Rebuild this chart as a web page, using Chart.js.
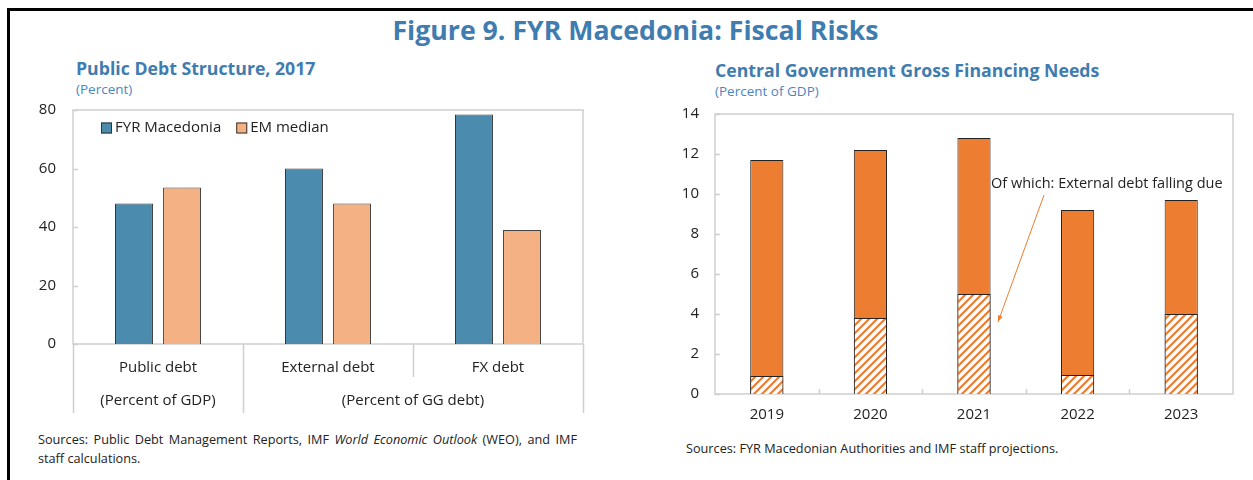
<!DOCTYPE html>
<html>
<head>
<meta charset="utf-8">
<script src="https://cdn.jsdelivr.net/npm/chart.js@4.4.1/dist/chart.umd.min.js"></script>
<style>
  html, body { margin: 0; padding: 0; background: #fff; }
  body { width: 1253px; height: 480px; position: relative; overflow: hidden; font-family: 'Open Sans', sans-serif; color: #222; }
  .rule-top { position: absolute; left: 7px; top: 8px; width: 1246px; height: 3px; background: #000; }
  .rule-left { position: absolute; left: 7px; top: 8px; width: 3px; height: 472px; background: #000; }
  .fig-title { position: absolute; left: 0; top: 11px; width: 1271px; text-align: center; font-weight: 700; font-size: 26.7px; color: #3f7cb0; white-space: nowrap; }
  .panel-title { position: absolute; font-weight: 700; font-size: 17.7px; color: #3f7cb0; white-space: nowrap; }
  .panel-unit { position: absolute; font-size: 13.5px; color: #4a86c2; white-space: nowrap; }
  .note { position: absolute; font-size: 12.7px; color: #222; line-height: 19px; white-space: nowrap; }
  .note.just { text-align: justify; text-align-last: justify; }
  canvas { position: absolute; }
</style>
</head>
<body>
<div class="rule-top"></div>
<div class="rule-left"></div>
<div class="fig-title">Figure 9. FYR Macedonia: Fiscal Risks</div>

<div class="panel-title" style="left:76px; top:56px;">Public Debt Structure, 2017</div>
<div class="panel-unit" style="left:76px; top:80px;">(Percent)</div>
<canvas id="debtChart" width="600" height="330" style="left:0; top:100px;"></canvas>
<div class="note just" style="left:38px; top:430px; width:539px; white-space:normal;">Sources: Public Debt Management Reports, IMF <i>World Economic Outlook</i> (WEO), and IMF</div>
<div class="note" style="left:38px; top:449px;">staff calculations.</div>

<div class="panel-title" style="left:715px; top:58px;">Central Government Gross Financing Needs</div>
<div class="panel-unit" style="left:715px; top:82px;">(Percent of GDP)</div>
<canvas id="gfnChart" width="613" height="330" style="left:640px; top:100px;"></canvas>
<div class="note" style="left:686px; top:439px;">Sources: FYR Macedonian Authorities and IMF staff projections.</div>

<script>
// Public debt structure, 2017
const debtCategories = ['Public debt', 'External debt', 'FX debt'];
const fyrMacedonia = [48, 60, 78.5];
const emMedian = [53.5, 48, 39];
const debtTicks = [0, 20, 40, 60, 80];
const debtGroups = [
    { label: '(Percent of GDP)', from: 0, to: 0 },
    { label: '(Percent of GG debt)', from: 1, to: 2 }
];

// Central government gross financing needs
const gfnYears = ['2019', '2020', '2021', '2022', '2023'];
const gfnTotal = [11.7, 12.2, 12.8, 9.2, 9.7];
const gfnExternalDue = [0.9, 3.8, 5.0, 0.95, 4.0];
const gfnTicks = [0, 2, 4, 6, 8, 10, 12, 14];

const FONT = "'Open Sans', sans-serif";
const TEXT = '#222';
const FRAME = '#cfcfcf';
Chart.defaults.font.family = FONT;
Chart.defaults.color = TEXT;
Chart.defaults.animation = false;

function hatch(color) {
    const size = 8;
    const c = document.createElement('canvas');
    c.width = size; c.height = size;
    const g = c.getContext('2d');
    g.fillStyle = '#fff';
    g.fillRect(0, 0, size, size);
    g.strokeStyle = color;
    g.lineWidth = 2.2;
    g.beginPath();
    g.moveTo(-1, size + 1); g.lineTo(size + 1, -1);
    g.moveTo(-1, 1); g.lineTo(1, -1);
    g.moveTo(size - 1, size + 1); g.lineTo(size + 1, size - 1);
    g.stroke();
    return g.createPattern(c, 'repeat');
}

function fixedTicks(values) {
    return function (scale) {
        scale.ticks = values.map(v => ({ value: v }));
    };
}

// fixed axis sizes so the plot box lands where the layout wants it
function fitAxis(prop, size) {
    return function (s) {
        s[prop] = size;
        s.paddingTop = 0; s.paddingBottom = 0;
        s.paddingLeft = 0; s.paddingRight = 0;
    };
}

// box around the plot area plus short inward ticks on the value axis
function drawFrame(chart, tickLen) {
    const { ctx, chartArea: a, scales } = chart;
    ctx.save();
    ctx.strokeStyle = FRAME;
    ctx.lineWidth = 1.5;
    ctx.strokeRect(a.left, a.top, a.right - a.left, a.bottom - a.top);
    ctx.beginPath();
    scales.y.ticks.forEach(t => {
        const y = Math.round(scales.y.getPixelForValue(t.value)) + 0.5;
        ctx.moveTo(a.left, y);
        ctx.lineTo(a.left + tickLen, y);
    });
    ctx.stroke();
    ctx.restore();
}

const debtDecor = {
    id: 'debtDecor',
    beforeDatasetsDraw(chart) {
        drawFrame(chart, 5);
    },
    afterDraw(chart) {
        const { ctx, chartArea: a, scales: { x } } = chart;
        const half = (x.getPixelForValue(1) - x.getPixelForValue(0)) / 2;
        ctx.save();
        // category separators below the axis
        ctx.strokeStyle = FRAME;
        ctx.lineWidth = 1.5;
        ctx.beginPath();
        for (let i = 0; i <= debtCategories.length; i++) {
            const px = Math.round(x.getPixelForValue(i) - half) + 0.5;
            const inGroup = debtGroups.some(g => i > g.from && i <= g.to);
            ctx.moveTo(px, a.bottom);
            ctx.lineTo(px, a.bottom + (inGroup ? 33 : 69));
        }
        ctx.stroke();
        // second row of labels
        ctx.fillStyle = TEXT;
        ctx.font = `15px ${FONT}`;
        ctx.textAlign = 'center';
        ctx.textBaseline = 'middle';
        debtGroups.forEach(g => {
            const cx = (x.getPixelForValue(g.from) + x.getPixelForValue(g.to)) / 2;
            ctx.fillText(g.label, cx, a.bottom + 57);
        });
        // legend inside the plot
        let lx = a.left + 28;
        const ly = a.top + 18;
        chart.data.datasets.forEach(ds => {
            ctx.fillStyle = ds.backgroundColor;
            ctx.fillRect(lx, ly - 5.5, 11, 11);
            ctx.strokeStyle = '#333';
            ctx.lineWidth = 1;
            ctx.strokeRect(lx + 0.5, ly - 5, 10, 10);
            ctx.fillStyle = TEXT;
            ctx.textAlign = 'left';
            ctx.fillText(ds.label, lx + 14, ly);
            lx += 14 + ctx.measureText(ds.label).width + 15;
        });
        ctx.restore();
    }
};

new Chart(document.getElementById('debtChart'), {
    type: 'bar',
    data: {
        labels: debtCategories,
        datasets: [
            { label: 'FYR Macedonia', data: fyrMacedonia, backgroundColor: '#4a8bae', borderColor: '#333', borderWidth: 1 },
            { label: 'EM median', data: emMedian, backgroundColor: '#f4b183', borderColor: '#444', borderWidth: 1 }
        ]
    },
    options: {
        responsive: false,
        categoryPercentage: 0.565,
        barPercentage: 0.79,
        layout: { padding: { top: 10, right: 17, left: 0, bottom: 0 } },
        plugins: { legend: { display: false }, tooltip: { enabled: false } },
        scales: {
            x: {
                grid: { display: false, drawTicks: false },
                border: { display: false },
                ticks: { font: { size: 15 }, padding: 15, color: TEXT },
                afterFit: fitAxis('height', 86)
            },
            y: {
                min: 0, max: 80,
                grid: { display: false, drawTicks: false },
                border: { display: false },
                ticks: { font: { size: 15 }, padding: 17, color: TEXT },
                afterBuildTicks: fixedTicks(debtTicks),
                afterFit: fitAxis('width', 73)
            }
        }
    },
    plugins: [debtDecor]
});

const gfnDecor = {
    id: 'gfnDecor',
    beforeDatasetsDraw(chart) {
        drawFrame(chart, 5);
        const { ctx, chartArea: a, scales: { x } } = chart;
        const half = (x.getPixelForValue(1) - x.getPixelForValue(0)) / 2;
        ctx.save();
        ctx.strokeStyle = FRAME;
        ctx.lineWidth = 1.5;
        ctx.beginPath();
        for (let i = 1; i < gfnYears.length; i++) {
            const px = Math.round(x.getPixelForValue(i) - half) + 0.5;
            ctx.moveTo(px, a.bottom);
            ctx.lineTo(px, a.bottom - 5);
        }
        ctx.stroke();
        ctx.restore();
    },
    afterDraw(chart) {
        const { ctx, scales: { x, y } } = chart;
        const c2021 = x.getPixelForValue(2);
        ctx.save();
        ctx.fillStyle = TEXT;
        ctx.font = `14.5px ${FONT}`;
        ctx.textAlign = 'left';
        ctx.textBaseline = 'middle';
        ctx.fillText('Of which: External debt falling due', c2021 + 17, y.getPixelForValue(10.5));
        // pointer to the hatched segment
        const x0 = c2021 + 70, y0 = y.getPixelForValue(9.95);
        const x1 = c2021 + 24, y1 = y.getPixelForValue(3.6);
        const ang = Math.atan2(y1 - y0, x1 - x0);
        ctx.strokeStyle = '#ed7d31';
        ctx.fillStyle = '#ed7d31';
        ctx.lineWidth = 1;
        ctx.beginPath();
        ctx.moveTo(x0, y0);
        ctx.lineTo(x1, y1);
        ctx.stroke();
        ctx.beginPath();
        ctx.moveTo(x1, y1);
        ctx.lineTo(x1 - 7 * Math.cos(ang - 0.35), y1 - 7 * Math.sin(ang - 0.35));
        ctx.lineTo(x1 - 7 * Math.cos(ang + 0.35), y1 - 7 * Math.sin(ang + 0.35));
        ctx.closePath();
        ctx.fill();
        ctx.restore();
    }
};

new Chart(document.getElementById('gfnChart'), {
    type: 'bar',
    data: {
        labels: gfnYears,
        datasets: [
            { label: 'Of which: External debt falling due', data: gfnExternalDue, backgroundColor: hatch('#ed7d31'), borderColor: '#222', borderWidth: 1 },
            { label: 'Gross financing needs', data: gfnTotal, backgroundColor: '#ed7d31', borderColor: '#222', borderWidth: 1 }
        ]
    },
    options: {
        responsive: false,
        categoryPercentage: 1,
        barPercentage: 0.32,
        layout: { padding: { top: 14, right: 20, left: 0, bottom: 0 } },
        plugins: { legend: { display: false }, tooltip: { enabled: false } },
        scales: {
            x: {
                stacked: true,
                grid: { display: false, drawTicks: false },
                border: { display: false },
                ticks: { font: { size: 15 }, padding: 12, color: TEXT },
                afterFit: fitAxis('height', 36)
            },
            y: {
                stacked: false,
                min: 0, max: 14,
                grid: { display: false, drawTicks: false },
                border: { display: false },
                ticks: { font: { size: 15 }, padding: 16, color: TEXT },
                afterBuildTicks: fixedTicks(gfnTicks),
                afterFit: fitAxis('width', 75)
            }
        }
    },
    plugins: [gfnDecor]
});
</script>
</body>
</html>
